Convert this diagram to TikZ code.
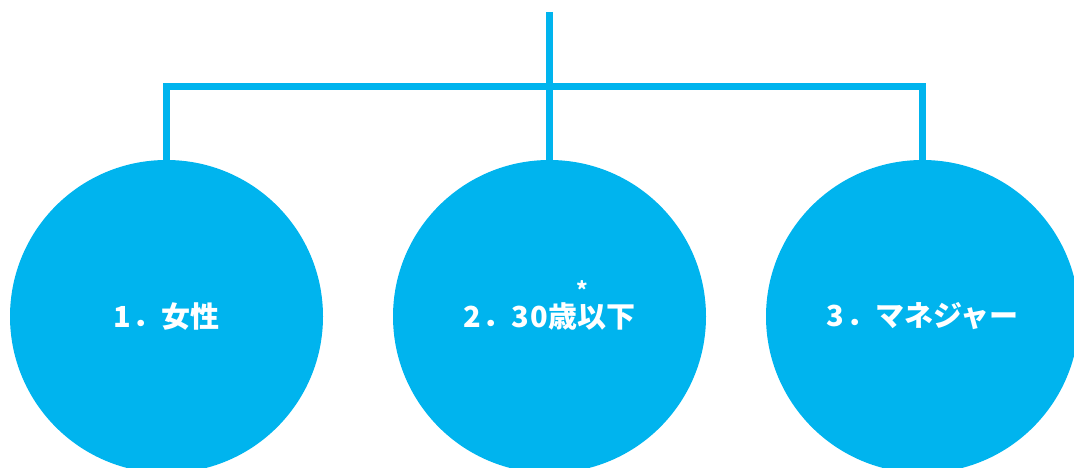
\documentclass[tikz,border=0pt]{standalone}
\usepackage{fontspec}
\newfontfamily\jp{Noto Sans CJK JP}
\definecolor{sky}{HTML}{00B4EE}
\tikzset{
  bubble/.style={circle, fill=sky, minimum size=313pt, inner sep=0pt, text=white, font=\jp\bfseries\fontsize{29}{32}\selectfont},
  link/.style={draw=sky, line width=7pt},
  note/.style={text=white, font=\jp\bfseries\fontsize{22}{24}\selectfont, inner sep=0pt, text height=8pt, text depth=0pt}
}
\begin{document}
\begin{tikzpicture}[x=1pt,y=1pt]
\useasboundingbox (0,0) rectangle (1074,467);
\node[bubble] (c1) at (166.5,150.5) {1\kern2pt．女性};
\node[bubble] (c2) at (549.5,150.5) {2\kern2pt．3\kern1pt0\kern1pt歳以下};
\node[bubble] (c3) at (922.5,150.5) {3\kern2pt．マネジャー};
\node[note] (star) at (582,173) {*};
\coordinate (top) at (549.5,455);
\coordinate (hub) at (549.5,380);
\draw[link] (top) -- (c2.north);
\draw[link] (c1.north) |- (hub) -| (c3.north);
\end{tikzpicture}
\end{document}
